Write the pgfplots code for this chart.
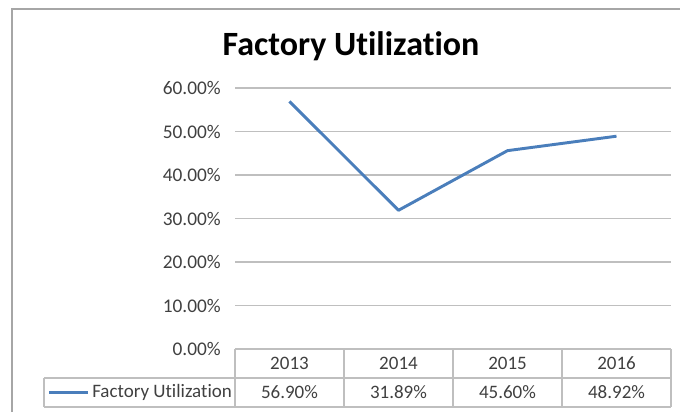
\documentclass[border=0pt]{standalone}
\usepackage{pgfplots}
\pgfplotsset{compat=1.18}
\usepackage{fontspec}
\setmainfont[Ligatures={NoCommon,NoContextual}]{Carlito}
\definecolor{linecol}{HTML}{4A7EBB}
\definecolor{gridcol}{HTML}{BFBFBF}
\definecolor{txtcol}{HTML}{404040}
\definecolor{bordercol}{HTML}{A6A6A6}
\begin{document}
\begin{tikzpicture}[x=1pt,y=1pt]
\useasboundingbox (0,0) rectangle (510,309);
% outer chart border (left and top)
\draw[bordercol, line width=1.5pt] (9,0) -- (9,302.25) -- (510,302.25);
% title
\node[font=\fontsize{25.5}{29}\selectfont\bfseries, anchor=base, inner sep=0pt] at (263.25,267.75) {Factory Utilization};
\begin{axis}[
  at={(176.25pt,47.25pt)}, anchor=south west,
  width=327pt, height=195.75pt, scale only axis,
  xmin=-0.5, xmax=3.5, ymin=0, ymax=60,
  xtick=\empty,
  ytick={0,10,20,30,40,50,60},
  ymajorgrids, grid style={gridcol, line width=0.9pt},
  axis line style={draw=none},
  major tick length=0pt,
  /pgf/number format/assume math mode=true,
  yticklabel={\pgfmathprintnumber[fixed,fixed zerofill,precision=2]{\tick}\%},
  yticklabel style={font=\fontsize{14.5}{16}\selectfont, text=txtcol, anchor=east, inner sep=0pt, xshift=-10.5pt},
  clip=false,
]
\addplot[linecol, line width=2.2pt, line join=round] coordinates {(0,56.90) (1,31.89) (2,45.60) (3,48.92)};
\end{axis}
% data table
\begin{scope}[gridcol, line width=0.9pt]
\draw (176.25,47.25) -- (503.25,47.25);
\draw (33,25.5) -- (503.25,25.5);
\draw (33,3.75) -- (503.25,3.75);
\draw (33,25.5) -- (33,3.75);
\foreach \x in {176.25,258,339.75,421.5,503.25} \draw (\x,47.25) -- (\x,3.75);
\end{scope}
\begin{scope}[font=\fontsize{14.25}{16}\selectfont, text=txtcol]
\node at (217.125,36.375) {2013};
\node at (298.875,36.375) {2014};
\node at (380.625,36.375) {2015};
\node at (462.375,36.375) {2016};
\node at (217.125,14.625) {56.90\%};
\node at (298.875,14.625) {31.89\%};
\node at (380.625,14.625) {45.60\%};
\node at (462.375,14.625) {48.92\%};
\node[anchor=west, inner sep=0pt] at (69,14.625) {Factory Utilization};
\end{scope}
\draw[linecol, line width=2.2pt] (36.75,14.625) -- (66,14.625);
\end{tikzpicture}
\end{document}
